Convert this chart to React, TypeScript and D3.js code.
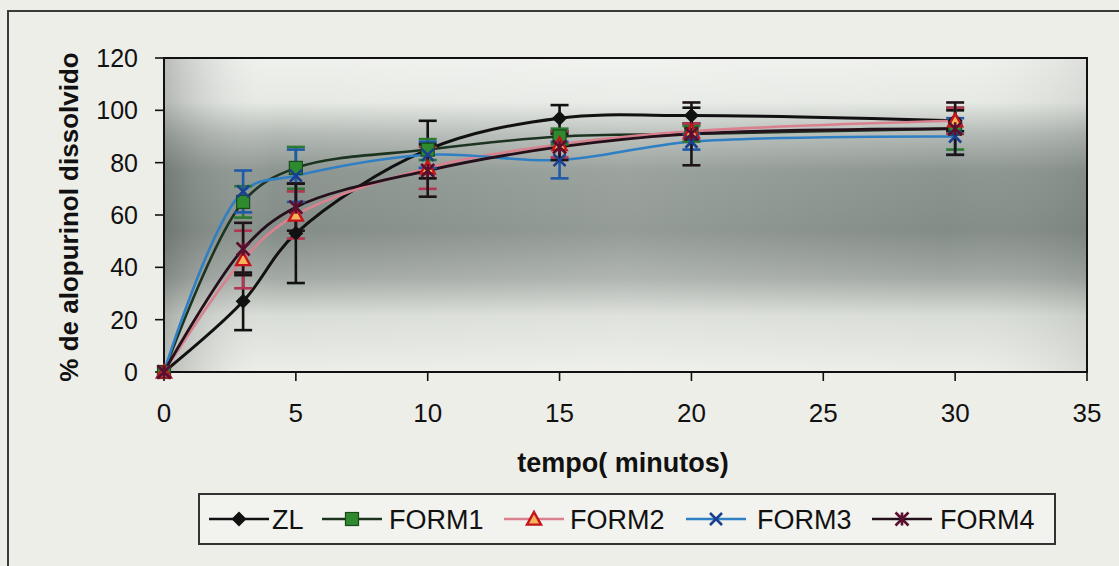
import React from "react";
import * as d3 from "d3";

const times = [0, 3, 5, 10, 15, 20, 30];
const zl = [0, 27, 53, 85, 97, 98, 96];
const zlErr = [0, 11, 19, 11, 5, 3, 4];
const form1 = [0, 65, 78, 85, 90, 91, 93];
const form1Err = [0, 6, 8, 4, 3, 3, 8];
const form2 = [0, 43, 60, 78, 87, 92, 96];
const form2Err = [0, 11, 9, 8, 5, 3, 5];
const form3 = [0, 69, 75, 83, 81, 88, 90];
const form3Err = [0, 8, 10, 5, 7, 3, 7];
const form4 = [0, 47, 63, 77, 86, 91, 93];
const form4Err = [0, 10, 9, 10, 5, 12, 10];
const seriesNames = ["ZL", "FORM1", "FORM2", "FORM3", "FORM4"];
const xTicks = [0, 5, 10, 15, 20, 25, 30, 35];
const yTicks = [0, 20, 40, 60, 80, 100, 120];

const W = 1119;
const H = 566;
const FONT = "'Liberation Sans', Arial, sans-serif";

const x = d3.scaleLinear().domain([0, 35]).range([164, 1087]);
const y = d3.scaleLinear().domain([0, 120]).range([372, 58]);

type Style = { line: string; lw: number; err: string; marker: string };
const styles: Style[] = [
  { line: "#111111", lw: 3, err: "#111111", marker: "diamond" },
  { line: "#1c3320", lw: 2.6, err: "#2c7a30", marker: "square" },
  { line: "#d9818f", lw: 2.6, err: "#b23552", marker: "triangle" },
  { line: "#2f7fc4", lw: 2.6, err: "#1f5aa8", marker: "x" },
  { line: "#24101a", lw: 2.8, err: "#1e1418", marker: "star" },
];
const values = [zl, form1, form2, form3, form4];
const errs = [zlErr, form1Err, form2Err, form3Err, form4Err];

function Marker({ kind, cx, cy }: { kind: string; cx: number; cy: number }) {
  if (kind === "diamond") {
    const s = 7.5;
    return <path d={`M${cx},${cy - s}L${cx + s},${cy}L${cx},${cy + s}L${cx - s},${cy}Z`} fill="#111" />;
  }
  if (kind === "square") {
    const s = 6.5;
    return <rect x={cx - s} y={cy - s} width={2 * s} height={2 * s} fill="#2f8a2f" stroke="#1a4a1a" strokeWidth={1.2} />;
  }
  if (kind === "triangle") {
    const s = 7;
    return (
      <path
        d={`M${cx},${cy - s}L${cx + s},${cy + s * 0.8}L${cx - s},${cy + s * 0.8}Z`}
        fill="#f7b25a"
        stroke="#c4141c"
        strokeWidth={2.4}
        strokeLinejoin="miter"
      />
    );
  }
  if (kind === "x") {
    const s = 6;
    return (
      <path d={`M${cx - s},${cy - s}L${cx + s},${cy + s}M${cx - s},${cy + s}L${cx + s},${cy - s}`} stroke="#1b3f8f" strokeWidth={2.6} />
    );
  }
  const s = 6.5;
  return (
    <path
      d={`M${cx - s},${cy - s}L${cx + s},${cy + s}M${cx - s},${cy + s}L${cx + s},${cy - s}M${cx},${cy - s}L${cx},${cy + s}`}
      stroke="#5a0f2e"
      strokeWidth={2.6}
    />
  );
}

export default function App() {
  const line = d3
    .line<[number, number]>()
    .x((d) => x(d[0]))
    .y((d) => y(d[1]))
    .curve(d3.curveCatmullRom.alpha(0.5));

  const legendItems = [
    { lx: 209, tx: 272 },
    { lx: 322, tx: 389 },
    { lx: 504, tx: 570 },
    { lx: 686, tx: 757 },
    { lx: 872, tx: 940 },
  ];

  return (
    <svg width={W} height={H} style={{ position: "absolute", left: 0, top: 0 }} fontFamily={FONT}>
      <defs>
        <linearGradient id="bgv" x1="0" y1="0" x2="0" y2="1">
          <stop offset="0" stopColor="#eff1ed" />
          <stop offset="0.14" stopColor="#e6e9e4" />
          <stop offset="0.24" stopColor="#b4bab5" />
          <stop offset="0.36" stopColor="#8c9590" />
          <stop offset="0.55" stopColor="#838c87" />
          <stop offset="0.7" stopColor="#a3a9a4" />
          <stop offset="0.82" stopColor="#d9ddd7" />
          <stop offset="1" stopColor="#eceee8" />
        </linearGradient>
        <linearGradient id="bgh" x1="0" y1="0" x2="1" y2="0">
          <stop offset="0" stopColor="#3a403c" stopOpacity="0.3" />
          <stop offset="0.12" stopColor="#ffffff" stopOpacity="0" />
          <stop offset="0.5" stopColor="#ffffff" stopOpacity="0.14" />
          <stop offset="0.85" stopColor="#ffffff" stopOpacity="0" />
          <stop offset="1" stopColor="#3a403c" stopOpacity="0.1" />
        </linearGradient>
      </defs>
      <rect x={0} y={0} width={W} height={H} fill="#eeeee8" />
      <path d={`M8,${H}L8,11L${W},11`} fill="none" stroke="#3a3a3a" strokeWidth={2} />

      <rect x={x(0)} y={y(120)} width={x(35) - x(0)} height={y(0) - y(120)} fill="url(#bgv)" />
      <rect x={x(0)} y={y(120)} width={x(35) - x(0)} height={y(0) - y(120)} fill="url(#bgh)" />
      <rect x={x(0)} y={y(120)} width={x(35) - x(0)} height={y(0) - y(120)} fill="none" stroke="#111" strokeWidth={2} />

      {yTicks.map((t) => (
        <g key={"y" + t}>
          <line x1={x(0) - 9} x2={x(0)} y1={y(t)} y2={y(t)} stroke="#111" strokeWidth={1.6} />
          <text x={x(0) - 26} y={y(t)} dy="0.36em" textAnchor="end" fontSize={25} fill="#111">
            {t}
          </text>
        </g>
      ))}
      {xTicks.map((t) => (
        <g key={"x" + t}>
          <line x1={x(t)} x2={x(t)} y1={y(0)} y2={y(0) + 9} stroke="#111" strokeWidth={1.6} />
          <text x={x(t)} y={y(0) + 50} textAnchor="middle" fontSize={26} fill="#111">
            {t}
          </text>
        </g>
      ))}

      <text
        transform={`translate(78,${(y(0) + y(120)) / 2 + 2}) rotate(-90)`}
        textAnchor="middle"
        fontSize={26}
        fontWeight="bold"
        fill="#111"
      >
        % de alopurinol dissolvido
      </text>
      <text x={623} y={472} textAnchor="middle" fontSize={27} fontWeight="bold" fill="#111">
        tempo( minutos)
      </text>

      {values.map((vals, i) => (
        <path
          key={"l" + i}
          d={line(times.map((t, j) => [t, vals[j]] as [number, number])) || ""}
          fill="none"
          stroke={styles[i].line}
          strokeWidth={styles[i].lw}
        />
      ))}
      {values.map((vals, i) => (
        <g key={"e" + i} stroke={styles[i].err} strokeWidth={2.6}>
          {times.map((t, j) =>
            errs[i][j] > 0 ? (
              <g key={j}>
                <line x1={x(t)} x2={x(t)} y1={y(vals[j] - errs[i][j])} y2={y(vals[j] + errs[i][j])} />
                <line x1={x(t) - 9} x2={x(t) + 9} y1={y(vals[j] - errs[i][j])} y2={y(vals[j] - errs[i][j])} />
                <line x1={x(t) - 9} x2={x(t) + 9} y1={y(vals[j] + errs[i][j])} y2={y(vals[j] + errs[i][j])} />
              </g>
            ) : null
          )}
        </g>
      ))}
      {values.map((vals, i) => (
        <g key={"m" + i}>
          {times.map((t, j) => (
            <Marker key={j} kind={styles[i].marker} cx={x(t)} cy={y(vals[j])} />
          ))}
        </g>
      ))}

      <rect x={199} y={494} width={856} height={50} fill="#f2f2ee" stroke="#333" strokeWidth={2} />
      {seriesNames.map((name, i) => {
        const it = legendItems[i];
        const cy = 519;
        return (
          <g key={"lg" + i}>
            <line x1={it.lx} x2={it.lx + 60} y1={cy} y2={cy} stroke={styles[i].line} strokeWidth={2.6} />
            <Marker kind={styles[i].marker} cx={it.lx + 30} cy={cy} />
            <text x={it.tx} y={cy} dy="0.36em" fontSize={27} fill="#111">
              {name}
            </text>
          </g>
        );
      })}
    </svg>
  );
}
